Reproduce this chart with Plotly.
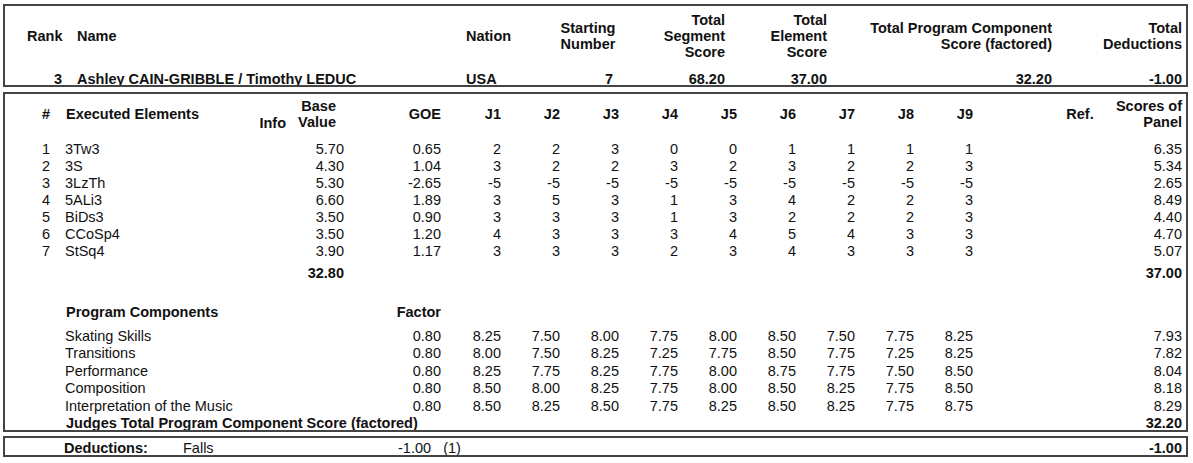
import plotly.graph_objects as go

# ---- data ----
rank = 3
skater = "Ashley CAIN-GRIBBLE / Timothy LEDUC"
nation = "USA"
start_no = 7
tss = "68.20"
tes = "37.00"
pcs = "32.20"
ded_total = "-1.00"

elements = ["3Tw3", "3S", "3LzTh", "5ALi3", "BiDs3", "CCoSp4", "StSq4"]
base_value = ["5.70", "4.30", "5.30", "6.60", "3.50", "3.50", "3.90"]
goe = ["0.65", "1.04", "-2.65", "1.89", "0.90", "1.20", "1.17"]
judge_goe = [
    [2, 2, 3, 0, 0, 1, 1, 1, 1],
    [3, 2, 2, 3, 2, 3, 2, 2, 3],
    [-5, -5, -5, -5, -5, -5, -5, -5, -5],
    [3, 5, 3, 1, 3, 4, 2, 2, 3],
    [3, 3, 3, 1, 3, 2, 2, 2, 3],
    [4, 3, 3, 3, 4, 5, 4, 3, 3],
    [3, 3, 3, 2, 3, 4, 3, 3, 3],
]
panel_scores = ["6.35", "5.34", "2.65", "8.49", "4.40", "4.70", "5.07"]
base_total = "32.80"

components = ["Skating Skills", "Transitions", "Performance", "Composition",
              "Interpretation of the Music"]
factor = ["0.80", "0.80", "0.80", "0.80", "0.80"]
judge_pc = [
    ["8.25", "7.50", "8.00", "7.75", "8.00", "8.50", "7.50", "7.75", "8.25"],
    ["8.00", "7.50", "8.25", "7.25", "7.75", "8.50", "7.75", "7.25", "8.25"],
    ["8.25", "7.75", "8.25", "7.75", "8.00", "8.75", "7.75", "7.50", "8.50"],
    ["8.50", "8.00", "8.25", "7.75", "8.00", "8.50", "8.25", "7.75", "8.50"],
    ["8.50", "8.25", "8.50", "7.75", "8.25", "8.50", "8.25", "7.75", "8.75"],
]
pc_scores = ["7.93", "7.82", "8.04", "8.18", "8.29"]
judges = ["J1", "J2", "J3", "J4", "J5", "J6", "J7", "J8", "J9"]
deduction_name = "Falls"
deduction_value = "-1.00"
deduction_count = "(1)"

# ---- layout constants (pixels) ----
W, H = 1193, 463
FONT = "Arial, Liberation Sans, sans-serif"
FS = 14.5
DY = 2  # plotly draws 'middle' text a little above the anchor
judge_x = [501, 560, 619, 678, 737, 796, 855, 914, 973]
bvh_x, bv_x, goe_x, panel_x = 336, 344, 441, 1182
el_y0, el_dy = 148, 17
pc_y0, pc_dy = 335, 17.5

fig = go.Figure()


def txt(xs, ys, texts, pos="middle right", bold=False):
    if bold:
        texts = ["<b>%s</b>" % t for t in texts]
    fig.add_trace(go.Scatter(x=xs, y=[v + DY for v in ys], text=texts, mode="text",
                             textposition=pos, hoverinfo="skip",
                             textfont=dict(family=FONT, size=FS, color="#111")))


L, R, C = "middle right", "middle left", "middle center"

# header box
txt([27, 77, 466], [35, 35, 35], ["Rank", "Name", "Nation"], L, True)
txt([588, 588], [27, 43], ["Starting", "Number"], C, True)
txt([725] * 3, [19, 35, 51], ["Total", "Segment", "Score"], R, True)
txt([827] * 3, [19, 35, 51], ["Total", "Element", "Score"], R, True)
txt([1052] * 2, [27, 43], ["Total Program Component", "Score (factored)"], R, True)
txt([1182] * 2, [27, 43], ["Total", "Deductions"], R, True)
txt([62], [78], [str(rank)], R, True)
txt([77, 466], [78, 78], [skater, nation], L, True)
txt([613, 725, 827, 1052, 1182], [78] * 5,
    [str(start_no), tss, tes, pcs, ded_total], R, True)

# elements header
txt([50], [113], ["#"], R, True)
txt([66], [113], ["Executed Elements"], L, True)
txt([286], [122], ["Info"], R, True)
txt([bvh_x, bvh_x], [105, 121], ["Base", "Value"], R, True)
txt([goe_x], [113], ["GOE"], R, True)
txt(judge_x, [113] * 9, judges, R, True)
txt([1080], [113], ["Ref."], C, True)
txt([panel_x, panel_x], [105, 121], ["Scores of", "Panel"], R, True)

# element rows
ey = [el_y0 + i * el_dy for i in range(len(elements))]
txt([50] * len(ey), ey, [str(i + 1) for i in range(len(elements))], R)
txt([65] * len(ey), ey, elements, L)
txt([bv_x] * len(ey), ey, base_value, R)
txt([goe_x] * len(ey), ey, goe, R)
for j in range(9):
    txt([judge_x[j]] * len(ey), ey, [str(r[j]) for r in judge_goe], R)
txt([panel_x] * len(ey), ey, panel_scores, R)
ty = el_y0 + len(elements) * el_dy + 5
txt([bv_x, panel_x], [ty, ty], [base_total, tes], R, True)

# program components
txt([66], [311], ["Program Components"], L, True)
txt([goe_x], [311], ["Factor"], R, True)
py = [pc_y0 + i * pc_dy for i in range(len(components))]
txt([65] * len(py), py, components, L)
txt([goe_x] * len(py), py, factor, R)
for j in range(9):
    txt([judge_x[j]] * len(py), py, [r[j] for r in judge_pc], R)
txt([panel_x] * len(py), py, pc_scores, R)
jy = pc_y0 + len(components) * pc_dy
txt([66], [jy], ["Judges Total Program Component Score (factored)"], L, True)
txt([panel_x], [jy], [pcs], R, True)

# deductions
txt([64], [447], ["Deductions:"], L, True)
txt([183], [447], [deduction_name], L)
txt([398], [447], [deduction_value + "   " + deduction_count], L)
txt([panel_x], [447], [ded_total], R, True)

box = dict(type="rect", xref="x", yref="y", line=dict(color="#444", width=2),
           fillcolor="rgba(0,0,0,0)")
for y0, y1 in [(5, 86), (93, 431), (437, 456)]:
    fig.add_shape(x0=4, x1=1187, y0=y0, y1=y1, **box)

fig.update_layout(
    width=W, height=H, margin=dict(l=0, r=0, t=0, b=0),
    paper_bgcolor="white", plot_bgcolor="white", showlegend=False,
    xaxis=dict(range=[0, W], visible=False, fixedrange=True),
    yaxis=dict(range=[H, 0], visible=False, fixedrange=True),
)
fig.write_html("out.html", config={"displayModeBar": False},
               post_script="document.body.style.margin='0';")
